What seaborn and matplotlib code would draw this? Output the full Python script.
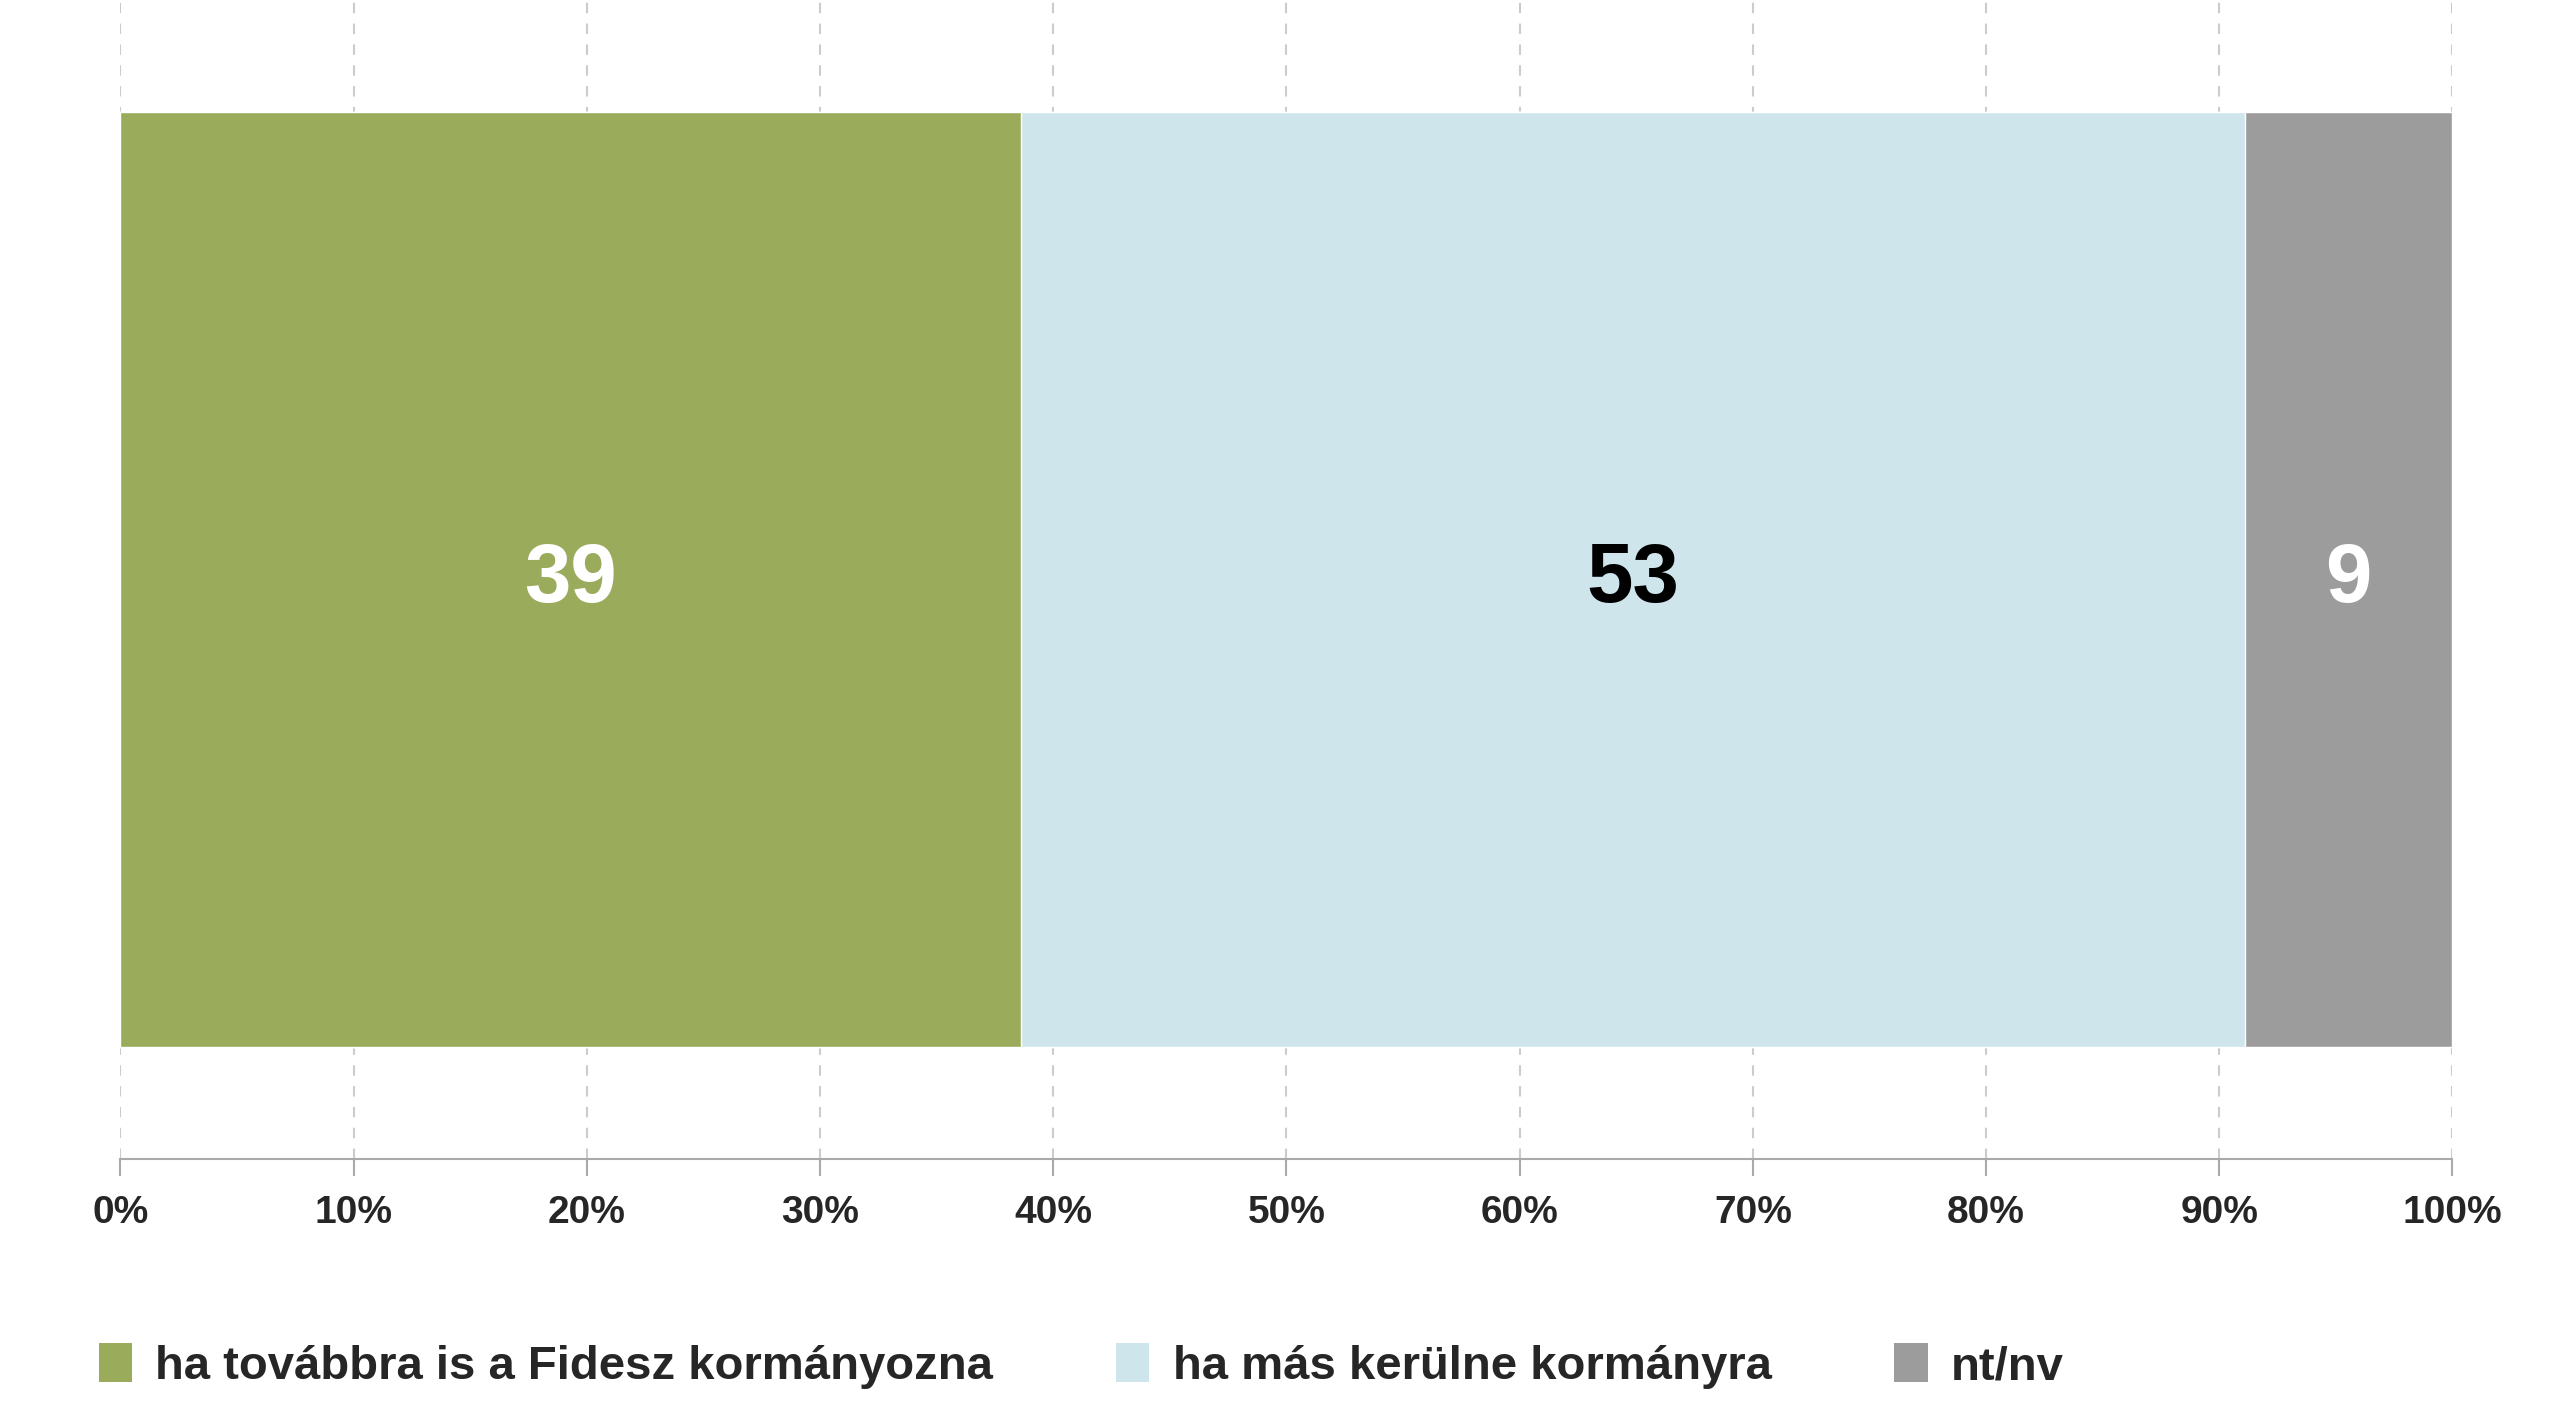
import matplotlib
matplotlib.use('Agg')
import matplotlib.pyplot as plt
import seaborn as sns
import numpy as np
import pandas as pd
from matplotlib.patches import Patch

categories = ['ha továbbra is a Fidesz kormányozna', 'ha más kerülne kormányra', 'nt/nv']
values = [39, 53, 9]
colors = ['#9aab5c', '#cfe5ec', '#9c9c9c']
label_colors = ['white', 'black', 'white']

sns.set_theme(style='white')
plt.rcParams['font.family'] = ['Liberation Sans', 'DejaVu Sans']

shares = np.array(values) / sum(values) * 100
cum = np.cumsum(shares)

fig = plt.figure(figsize=(25.6, 14.26), dpi=100)
ax = fig.add_axes([0.047, 0.187, 0.911, 0.813])

# draw cumulative bars from the widest down so they stack
for i in range(len(categories) - 1, -1, -1):
    df = pd.DataFrame({'row': ['x'], 'val': [cum[i]]})
    sns.barplot(data=df, x='val', y='row', orient='h', color=colors[i],
                width=0.806, saturation=1, ax=ax, zorder=2)

left = np.concatenate([[0], cum[:-1]])
for i, v in enumerate(values):
    ax.text(left[i] + shares[i] / 2, 0, str(v), ha='center', va='center',
            fontsize=60, fontweight='bold', color=label_colors[i], zorder=3)

ax.set_xlim(0, 100)
ax.set_ylim(0.5, -0.5)
ax.set_xticks(range(0, 101, 10))
ax.set_xticklabels([f'{t}%' for t in range(0, 101, 10)], fontsize=28, fontweight='bold')
ax.set_yticks([])
ax.set_xlabel('')
ax.set_ylabel('')
ax.xaxis.grid(True, linestyle=(0, (5, 5)), color='#cccccc', linewidth=1.5, zorder=0)
ax.set_axisbelow(True)
for s in ['top', 'right', 'left']:
    ax.spines[s].set_visible(False)
ax.spines['bottom'].set_color('#aaaaaa')
ax.spines['bottom'].set_linewidth(1.5)
ax.tick_params(axis='x', direction='out', length=12, color='#aaaaaa', width=1.5, pad=14, bottom=True)

handles = [Patch(facecolor=c, edgecolor='none') for c in colors]
leg = fig.legend(handles, categories, loc='center left', bbox_to_anchor=(0.022, 0.042),
                 ncol=3, frameon=False, fontsize=34, handlelength=0.7, handleheight=0.9,
                 handletextpad=0.5, columnspacing=2.6)
for t in leg.get_texts():
    t.set_fontweight('bold')

fig.savefig('out.png', dpi=100, facecolor='white')
